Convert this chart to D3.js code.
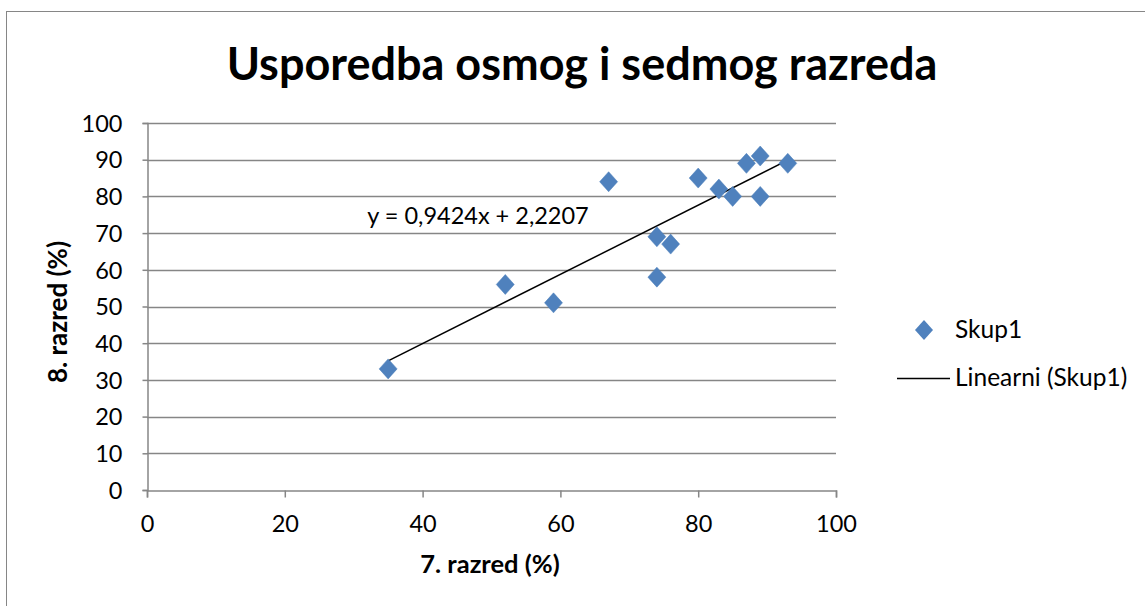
<!DOCTYPE html>
<html>
<head>
<meta charset="utf-8">
<script src="https://cdn.jsdelivr.net/npm/d3@7"></script>
<style>
body { margin: 0; background: #fff; }
text { font-family: Lato, "Noto Sans", sans-serif; fill: #000; }
</style>
</head>
<body>
<svg id="chart" width="1145" height="606"></svg>
<script>
// data
var x7 = [35, 52, 59, 67, 74, 74, 76, 80, 83, 85, 87, 89, 89, 93];
var y8 = [33, 56, 51, 84, 69, 58, 67, 85, 82, 80, 89, 91, 80, 89];
var xTicks = [0, 20, 40, 60, 80, 100];
var yTicks = [0, 10, 20, 30, 40, 50, 60, 70, 80, 90, 100];
var slope = 0.9424, intercept = 2.2207;
var seriesName = "Skup1";
var trendName = "Linearni (Skup1)";

var svg = d3.select("#chart");

// outer chart border
svg.append("rect")
    .attr("x", 6.5).attr("y", 11.5)
    .attr("width", 1160).attr("height", 620)
    .attr("fill", "none").attr("stroke", "#868686");

var x = d3.scaleLinear().domain([0, 100]).range([147, 836]);
var y = d3.scaleLinear().domain([0, 100]).range([490, 123]);

// gridlines
svg.append("g").selectAll("line")
    .data(yTicks.filter(d => d > 0))
    .enter().append("line")
    .attr("x1", x(0)).attr("x2", x(100))
    .attr("y1", d => Math.round(y(d)) + 0.5).attr("y2", d => Math.round(y(d)) + 0.5)
    .attr("stroke", "#868686").attr("stroke-width", 1.5);

// y axis
var yAxis = svg.append("g")
    .attr("transform", "translate(" + (x(0) + 0.5) + ",0)")
    .call(d3.axisLeft(y).tickValues(yTicks).tickSize(5).tickPadding(20));
// x axis
var xAxis = svg.append("g")
    .attr("transform", "translate(0," + (y(0) + 0.5) + ")")
    .call(d3.axisBottom(x).tickValues(xTicks).tickSize(7).tickPadding(18));

[xAxis, yAxis].forEach(function (ax) {
    ax.select(".domain").attr("stroke", "#868686").attr("stroke-width", 1.5);
    ax.selectAll(".tick line").attr("stroke", "#868686").attr("stroke-width", 1.5);
    ax.selectAll(".tick text").style("font-size", "23.5px").attr("fill", "#000");
});
yAxis.selectAll(".tick text").attr("dy", "0.35em");

// trend line
var xMin = d3.min(x7), xMax = d3.max(x7);
svg.append("line")
    .attr("x1", x(xMin)).attr("y1", y(slope * xMin + intercept))
    .attr("x2", x(xMax)).attr("y2", y(slope * xMax + intercept))
    .attr("stroke", "#000").attr("stroke-width", 1.5);

// diamonds
var diamond = "M0,-10L9,0L0,10L-9,0Z";
svg.append("g").selectAll("path")
    .data(x7.map((d, i) => [d, y8[i]]))
    .enter().append("path")
    .attr("d", diamond)
    .attr("transform", d => "translate(" + x(d[0]) + "," + y(d[1]) + ")")
    .attr("fill", "#4f81bd").attr("stroke", "#4a7ebb").attr("stroke-width", 0.5);

// equation label
svg.append("text")
    .attr("x", 478).attr("y", 224)
    .attr("text-anchor", "middle")
    .style("font-size", "23.5px")
    .text("y = " + slope.toString().replace(".", ",") + "x + " + intercept.toString().replace(".", ","));

// title
svg.append("text")
    .attr("x", 582).attr("y", 80)
    .attr("text-anchor", "middle")
    .style("font-size", "45px").style("font-weight", "bold")
    .text("Usporedba osmog i sedmog razreda");

// axis titles
svg.append("text")
    .attr("x", 490).attr("y", 573)
    .attr("text-anchor", "middle")
    .style("font-size", "25.5px").style("font-weight", "bold")
    .text("7. razred (%)");
svg.append("text")
    .attr("transform", "translate(67,312) rotate(-90)")
    .attr("text-anchor", "middle")
    .style("font-size", "26px").style("font-weight", "bold")
    .text("8. razred (%)");

// legend
svg.append("path")
    .attr("d", diamond)
    .attr("transform", "translate(924,330)")
    .attr("fill", "#4f81bd");
svg.append("text")
    .attr("x", 955).attr("y", 338)
    .style("font-size", "24.5px")
    .text(seriesName);
svg.append("line")
    .attr("x1", 897).attr("x2", 950)
    .attr("y1", 378.5).attr("y2", 378.5)
    .attr("stroke", "#000").attr("stroke-width", 1.5);
svg.append("text")
    .attr("x", 955).attr("y", 386)
    .style("font-size", "24.5px")
    .text(trendName);
</script>
</body>
</html>
